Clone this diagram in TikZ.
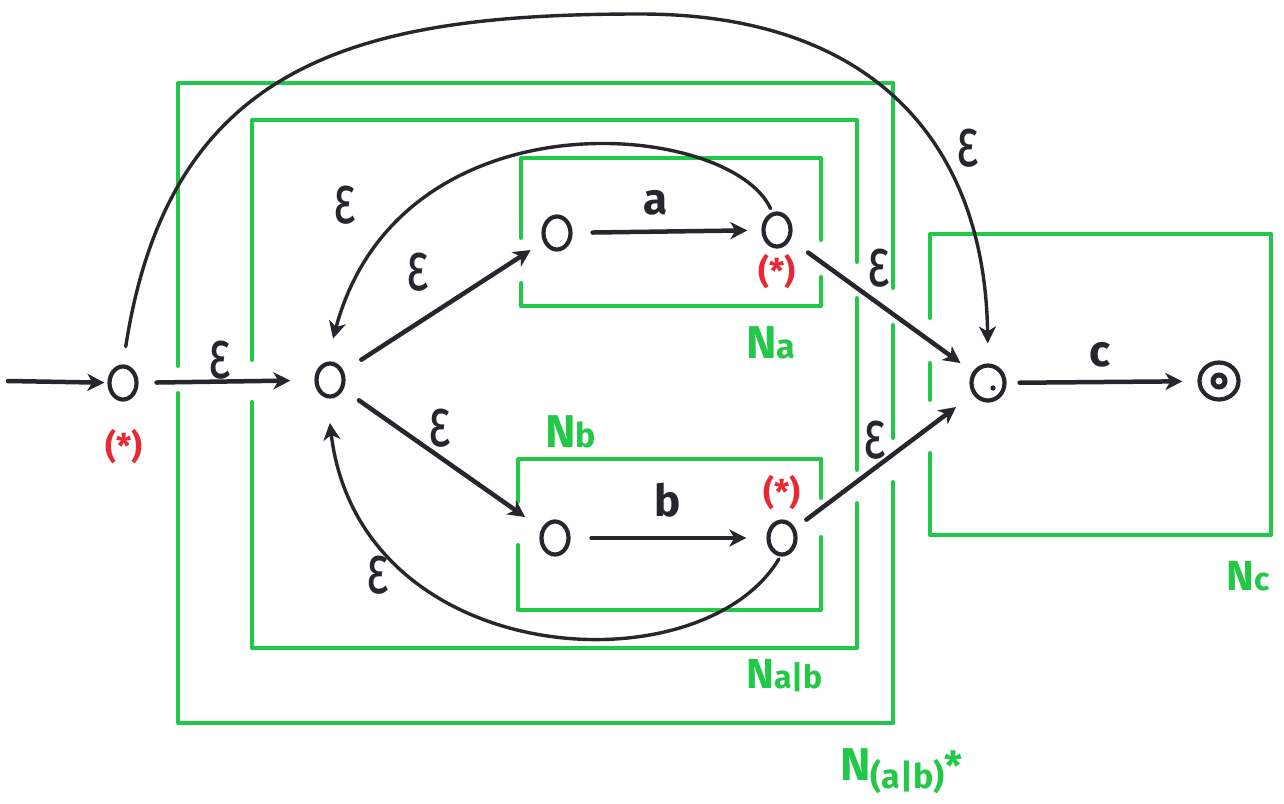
\documentclass[tikz,border=0pt]{standalone}
\usepackage{fontspec}
\usepackage{graphicx}
\setmainfont{Fira Sans}
\usetikzlibrary{arrows.meta,shapes.geometric}
\definecolor{gr}{RGB}{34,200,72}
\definecolor{ink}{RGB}{40,38,44}
\definecolor{rd}{RGB}{232,40,52}
\newcommand{\myeps}{\scalebox{1}[1.45]{\fontsize{48}{50}\selectfont ε}}
\begin{document}
\begin{tikzpicture}[x=1pt,y=-1pt,
  box/.style={draw=gr,line width=4pt,line cap=round,line join=round},
  st/.style={draw=ink,ellipse,line width=4.2pt,minimum width=27pt,minimum height=33pt,inner sep=0pt},
  edge/.style={draw=ink,line width=4.5pt,line cap=round,-{Stealth[length=17pt,width=17pt,inset=5pt]}},
  curve/.style={draw=ink,line width=3.4pt,line cap=round,-{Stealth[length=17pt,width=17pt,inset=5pt]}},
  lab/.style={text=ink,inner sep=0pt},
  sym/.style={text=ink,inner sep=0pt,font=\fontsize{44}{48}\selectfont\bfseries},
  star/.style={text=rd,inner sep=0pt,font=\fontsize{34}{36}\selectfont\bfseries},
  glab/.style={text=gr,inner sep=0pt,anchor=base west,font=\bfseries}]
\useasboundingbox (0,0) rectangle (1284,803);
\fill[white] (0,0) rectangle (1284,803);

% green boxes
\draw[box] (178,366) -- (178,83) -- (893,83) -- (893,288);
\draw[box] (893,325) -- (893,438);
\draw[box] (893,482) -- (893,723) -- (178,723) -- (178,393);
\draw[box] (252,360) -- (252,120) -- (857,120) -- (857,262);
\draw[box] (857,298) -- (857,470);
\draw[box] (857,503) -- (857,648) -- (252,648) -- (252,402);
\draw[box] (521,238) -- (521,158) -- (821,158) -- (821,240);
\draw[box] (821,277) -- (821,306) -- (521,306) -- (521,283);
\draw[box] (518,502) -- (518,459) -- (821,459) -- (821,498);
\draw[box] (821,537) -- (821,610) -- (518,610) -- (518,545);
\draw[box] (930,318) -- (930,234) -- (1271,234) -- (1271,535) -- (930,535) -- (930,453);
\draw[box] (930,363) -- (930,400);

% states
\node[st] (s0) at (123,383) {};
\node[st] (s1) at (330,380) {};
\node[st] (a1) at (557,233) {};
\node[st] (a2) at (777,230) {};
\node[st] (b1) at (555,538) {};
\node[st] (b2) at (782,538) {};
\node[st,minimum width=33pt,minimum height=35pt] (sm) at (988,383) {};
\fill[ink] (993,388) circle (2.6pt);
\node[st,minimum width=39pt,minimum height=37pt] (fin) at (1219,381) {};
\node[draw=ink,circle,line width=5pt,minimum size=12pt,inner sep=0pt] (fin2) at (1219,381) {};
\coordinate (start) at (8,381);

% straight edges
\draw[edge,shorten >=3pt] (start) -- (s0);
\draw[edge,shorten <=18pt,shorten >=24pt] (s0) -- (s1);
\draw[edge,shorten <=21pt,shorten >=15pt] (s1) -- (a1);
\draw[edge,shorten <=19pt,shorten >=20pt] (s1) -- (b1);
\draw[edge,shorten <=20pt,shorten >=14pt] (a1) -- (a2);
\draw[edge,shorten <=21pt,shorten >=20pt] (b1) -- (b2);
\draw[edge,shorten <=22pt,shorten >=15pt] (a2) -- (sm);
\draw[edge,shorten <=14pt,shorten >=21pt] (b2) -- (sm);
\draw[edge,shorten <=13pt,shorten >=15pt] (sm) -- (fin);

% curved edges
\draw[curve,shorten <=4pt,shorten >=24pt] (a2.105) .. controls (730,120) and (400,90) .. (s1.100);
\draw[curve,shorten <=3pt,shorten >=25pt] (b2.265) .. controls (700,690) and (360,670) .. (s1.260);
\draw[curve,shorten <=18pt,shorten >=20pt] (s0.north) .. controls (170,60) and (360,14) .. (640,14)
  .. controls (880,14) and (985,150) .. (sm.north);

% labels
\node[lab] (e1) at (220,360) {\myeps};
\node[lab] (e2) at (418,272) {\myeps};
\node[lab] (e3) at (440,428) {\myeps};
\node[lab] (e4) at (345,205) {\myeps};
\node[lab] (e5) at (378,575) {\myeps};
\node[lab] (e6) at (879,268) {\myeps};
\node[lab] (e7) at (875,440) {\myeps};
\node[lab] (e8) at (968,148) {\myeps};
\node[sym] (la) at (656,203) {a};
\node[sym] (lb) at (668,500) {b};
\node[sym] (lc) at (1100,355) {c};

\node[star] (r0) at (124,447) {(*)};
\node[star] (r1) at (777,272) {(*)};
\node[star] (r2) at (782,493) {(*)};

\node[glab] (gNa) at (746,358) {\fontsize{46}{48}\selectfont N\fontsize{34}{36}\selectfont a};
\node[glab] (gNb) at (545,447) {\fontsize{46}{48}\selectfont N\fontsize{34}{36}\selectfont b};
\node[glab] (gNab) at (746,688) {\fontsize{42}{44}\selectfont N\fontsize{32}{34}\selectfont a|b};
\node[glab] (gNc) at (1226,590) {\fontsize{42}{44}\selectfont N\fontsize{32}{34}\selectfont c};
\node[glab] (gNs) at (840,780) {\fontsize{46}{48}\selectfont N\raisebox{-8pt}{\fontsize{34}{36}\selectfont (a|b)}\fontsize{40}{42}\selectfont *};
\end{tikzpicture}
\end{document}
